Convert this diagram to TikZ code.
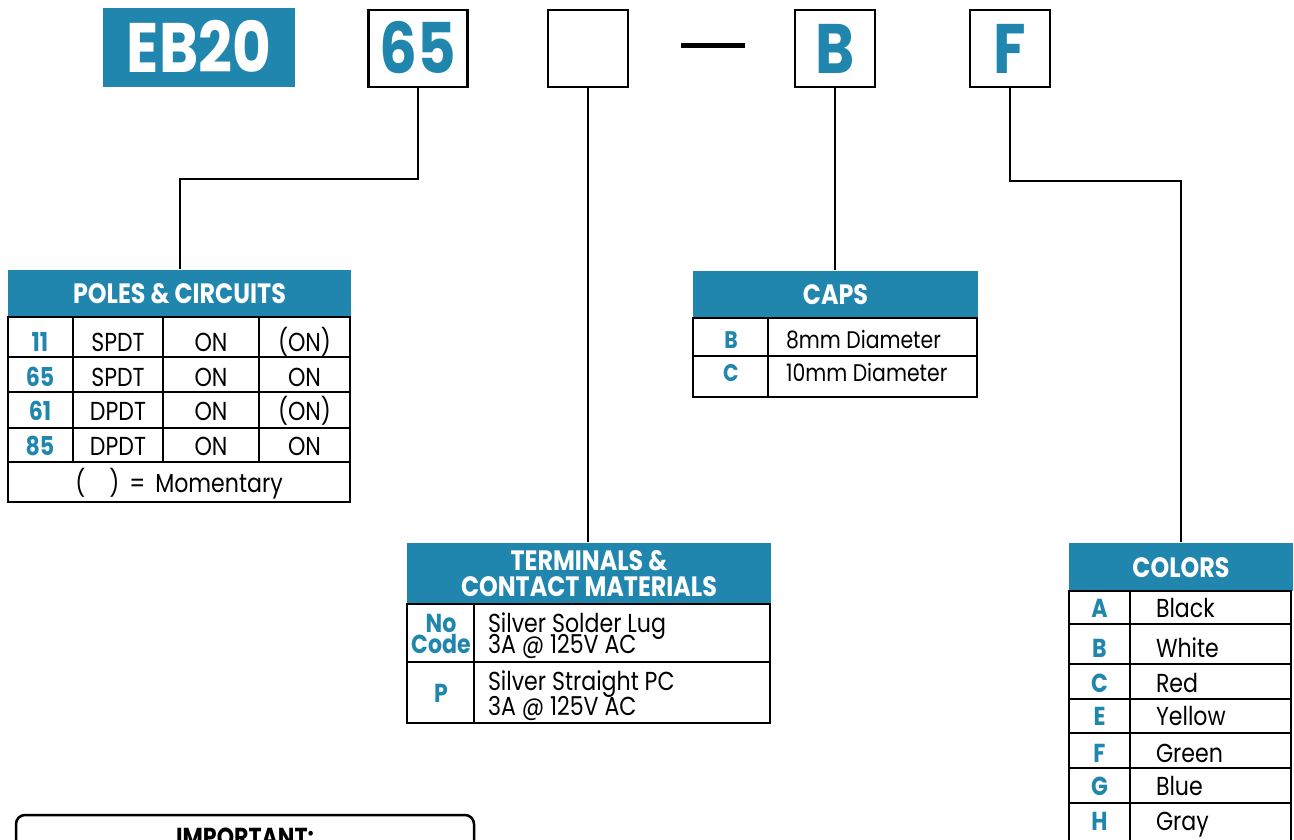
\documentclass[tikz,border=0pt]{standalone}
\usepackage{fontspec}
\setmainfont{Poppins}[FakeStretch=0.85]
\definecolor{ebteal}{HTML}{2186AE}

\begin{document}
\begin{tikzpicture}[x=1pt,y=-1pt,line width=2pt,
  codebox/.style={draw,line width=2.5pt,minimum height=77pt,inner sep=0pt,
    text=ebteal,font=\fontsize{70}{70}\selectfont\bfseries,text height=50pt,text depth=0pt},
  headbar/.style={fill=ebteal,text=white,inner sep=0pt,
    font=\fontsize{28}{26}\selectfont\bfseries},
  cell/.style={inner sep=0pt,anchor=base,font=\fontsize{26}{21}\selectfont},
  code/.style={cell,text=ebteal,font=\fontsize{26}{21}\selectfont\bfseries}]
  \useasboundingbox (0,0) rectangle (1294,840);
  \clip (0,0) rectangle (1294,840);

  % part number
  \node[codebox,draw=none,fill=ebteal,text=white,minimum width=192pt,
    minimum height=79pt] (series) at (199,47.5) {EB20};
  \node[codebox,minimum width=99pt] (c65) at (418,48.5) {65};
  \node[codebox,minimum width=80pt] (cterm) at (588,48.5) {};
  \draw[line width=5pt] (681,46) -- (745,46);
  \node[codebox,minimum width=80pt] (ccap) at (835,48.5) {B};
  \node[codebox,minimum width=80pt] (ccol) at (1010,48.5) {F};

  % poles & circuits
  \node[headbar,minimum width=343pt,minimum height=47pt,text height=20pt,
    text depth=0pt] (polesHead) at (179.5,293.5) {POLES \& CIRCUITS};
  \draw (8,317) rectangle (350,502);
  \foreach \y in {357,392,428,462} \draw (8,\y) -- (350,\y);
  \foreach \x in {73,163,259} \draw (\x,317) -- (\x,462);
  \foreach \c/\p/\a/\b/\y [count=\i] in {11/SPDT/ON/{(ON)}/351.7,
      65/SPDT/ON/ON/386,61/DPDT/ON/{(ON)}/420,85/DPDT/ON/ON/455}{
    \node[code] (pc\i) at (40,\y) {\c};
    \node[cell] (pp\i) at (118,\y) {\p};
    \node[cell] (pa\i) at (211,\y) {\a};
    \node[cell] (pb\i) at (304.5,\y) {\b};
  }
  \node[cell] (pnote) at (179,492)
    {(\hspace{24pt})\hspace{10pt}=\hspace{10pt}Momentary};

  % caps
  \node[headbar,minimum width=285pt,minimum height=47pt,text height=20pt,
    text depth=0pt] (capsHead) at (835.5,294.5) {CAPS};
  \draw (693,318) rectangle (977,397);
  \draw (693,356) -- (977,356);
  \draw (768,318) -- (768,397);
  \foreach \c/\t/\y [count=\i] in {B/8mm Diameter/348.3,C/10mm Diameter/381.7}{
    \node[code,font=\fontsize{24}{21}\selectfont\bfseries] (kc\i) at (731,\y) {\c};
    \node[cell,anchor=base west,font=\fontsize{24}{21}\selectfont] (kt\i) at (785,\y) {\t};
  }

  % terminals & contact materials
  \node[headbar,minimum width=364pt,minimum height=61pt,align=center]
    (termHead) at (589,573.5) {\raisebox{-2pt}{TERMINALS \&}\\\raisebox{-2pt}{CONTACT MATERIALS}};
  \draw (407,604) rectangle (770,723);
  \draw (407,662) -- (770,662);
  \draw (474,604) -- (474,723);
  \node[code] (tno) at (441,632) {No};
  \node[code] (tcode) at (441,653) {Code};
  \node[code] (tp) at (441,702) {P};
  \node[cell,anchor=base west] (tlug) at (487,632) {Silver Solder Lug};
  \node[cell,anchor=base west] (tlugA) at (487,653) {3A @ 125V AC};
  \node[cell,anchor=base west] (tpc) at (487,690) {Silver Straight PC};
  \node[cell,anchor=base west] (tpcA) at (487,715) {3A @ 125V AC};

  % colors
  \node[headbar,minimum width=224pt,minimum height=48pt,text height=20pt,
    text depth=0pt] (colorsHead) at (1181,567) {COLORS};
  \draw (1069,591) rectangle (1291,850);
  \foreach \y in {624,664,699,733,768,803} \draw (1069,\y) -- (1291,\y);
  \draw (1130,591) -- (1130,850);
  \foreach \c/\t/\y [count=\i] in {A/Black/617,B/White/657,C/Red/692,
      E/Yellow/725,F/Green/762,G/Blue/795,H/Gray/830}{
    \node[code] (cc\i) at (1099.5,\y) {\c};
    \node[cell,anchor=base west] (ct\i) at (1155,\y) {\t};
  }

  % important note
  \draw[line width=2.5pt,rounded corners=9pt] (16,815) rectangle (474,900);
  \node[cell,font=\fontsize{26}{26}\selectfont\bfseries] (important)
    at (245,846) {IMPORTANT:};

  % connectors
  \draw (c65.south) -- ++(0,91) -| (polesHead.north);
  \draw (cterm.south) -- (cterm.south |- termHead.north);
  \draw (ccap.south) -- (ccap.south |- capsHead.north);
  \draw (ccol.south) -- ++(0,93) -| (colorsHead.north);
\end{tikzpicture}
\end{document}
